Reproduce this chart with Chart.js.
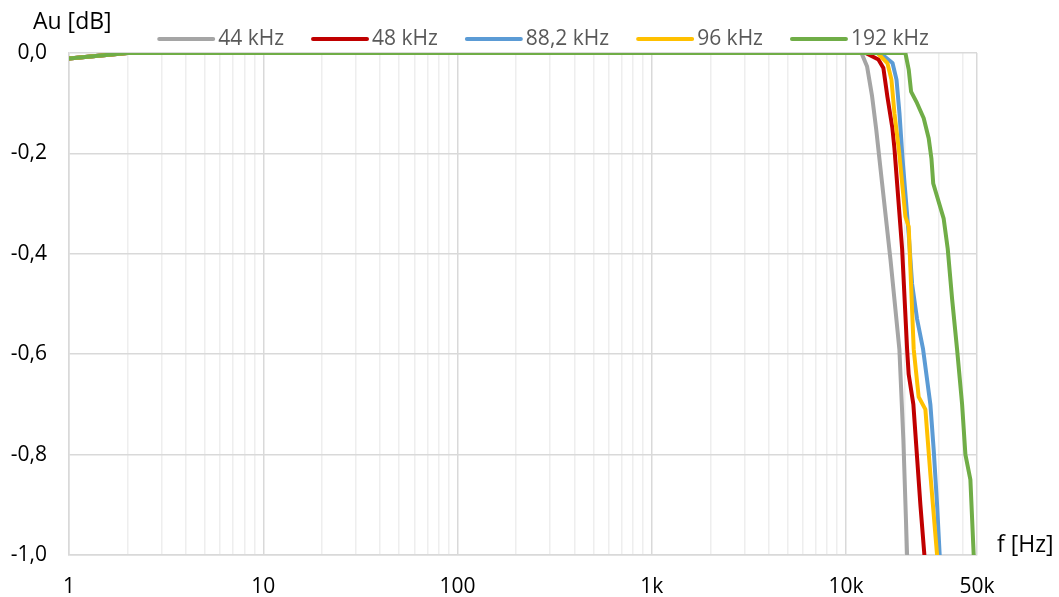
<!DOCTYPE html>
<html>
<head>
<meta charset="utf-8">
<script src="https://cdn.jsdelivr.net/npm/chart.js@4.4.0/dist/chart.umd.min.js"></script>
<style>
  html, body { margin: 0; padding: 0; background: #fff; }
</style>
</head>
<body>
<canvas id="chart" width="1059" height="597"></canvas>
<script>
// series names and colours (legend order)
const seriesNames = ["44 kHz", "48 kHz", "88,2 kHz", "96 kHz", "192 kHz"];
const seriesColors = ["#A5A5A5", "#C00000", "#5B9BD5", "#FFC000", "#70AD47"];

// frequency [Hz] / gain [dB]
const f44 = [1, 2, 12000, 12830, 13610, 14300, 15330, 16910, 17940, 18810, 19720, 20610];
const g44 = [-0.011, 0, 0, -0.027, -0.086, -0.153, -0.26, -0.41, -0.51, -0.59, -0.77, -1.0];

const f48 = [1, 2, 12600, 14670, 15560, 16320, 17320, 17740, 19430, 20610, 21000, 22200, 24130, 25300];
const g48 = [-0.011, 0, 0, -0.013, -0.03, -0.087, -0.15, -0.19, -0.39, -0.59, -0.64, -0.70, -0.90, -1.0];

const f88 = [1, 2, 15000, 17340, 18180, 18830, 19520, 21000, 21870, 23200, 24910, 27160, 28250, 29410, 30330];
const g88 = [-0.011, 0, 0, -0.02, -0.053, -0.12, -0.21, -0.36, -0.46, -0.53, -0.59, -0.70, -0.79, -0.90, -1.0];

const f96 = [1, 2, 14500, 16320, 17120, 17740, 18700, 20200, 21010, 22290, 23640, 25600, 27170, 29410];
const g96 = [-0.011, 0, 0, -0.02, -0.053, -0.12, -0.193, -0.326, -0.346, -0.59, -0.685, -0.71, -0.84, -1.0];

const f192 = [1, 2, 20200, 21010, 21610, 23200, 25100, 26620, 27500, 28100, 31800, 33360, 35140, 37270, 39560, 41140, 43640, 45390];
const g192 = [-0.011, 0, 0, -0.033, -0.077, -0.10, -0.13, -0.17, -0.21, -0.26, -0.33, -0.39, -0.49, -0.59, -0.70, -0.80, -0.85, -1.0];

const seriesFreq = [f44, f48, f88, f96, f192];
const seriesGain = [g44, g48, g88, g96, g192];

// axes
const xMin = 1;
const xMax = 47200;
const xLabelValues = [1, 10, 100, 1000, 10000, 47200];
const xLabels = ["1", "10", "100", "1k", "10k", "50k"];
const yTicks = [0, -0.2, -0.4, -0.6, -0.8, -1.0];

// log grid lines 1..9 per decade
const xGrid = [];
for (let p = 1; p <= 10000; p *= 10) {
  for (let m = 1; m <= 9; m++) {
    if (m * p < xMax) xGrid.push(m * p);
  }
}
xGrid.push(xMax);

const FONT = '"Open Sans", "DejaVu Sans", sans-serif';

const datasets = seriesNames.map((name, i) => ({
  label: name,
  data: seriesFreq[i].map((f, j) => ({ x: f, y: seriesGain[i][j] })),
  borderColor: seriesColors[i],
  backgroundColor: seriesColors[i],
  borderWidth: 4,
  pointRadius: 0,
  tension: 0,
  borderCapStyle: "round",
  borderJoinStyle: "round"
})).reverse(); // green drawn on top

/* ===== legend + axis titles ===== */
const overlay = {
  id: "overlay",
  afterDraw(chart) {
    const ctx = chart.ctx;
    ctx.save();
    ctx.textBaseline = "middle";

    // legend
    ctx.font = "21px " + FONT;
    const lineLen = 54, gapText = 5, gapItem = 29;
    const widths = seriesNames.map(n => ctx.measureText(n).width);
    let total = 0;
    widths.forEach((w, i) => { total += lineLen + gapText + w + (i ? gapItem : 0); });
    let x = 544 - total / 2;
    const y = 39;
    seriesNames.forEach((n, i) => {
      ctx.strokeStyle = seriesColors[i];
      ctx.lineWidth = 4;
      ctx.lineCap = "round";
      ctx.beginPath();
      ctx.moveTo(x, y);
      ctx.lineTo(x + lineLen, y);
      ctx.stroke();
      ctx.fillStyle = "#595959";
      ctx.textAlign = "left";
      ctx.fillText(n, x + lineLen + gapText, y);
      x += lineLen + gapText + widths[i] + gapItem;
    });

    // axis titles
    ctx.font = "23px " + FONT;
    ctx.fillStyle = "#000";
    ctx.fillText("Au [dB]", 33, 22);
    ctx.fillText("f [Hz]", 997, 545);
    ctx.restore();
  }
};

new Chart(document.getElementById("chart"), {
  type: "line",
  data: { datasets },
  plugins: [overlay],
  options: {
    responsive: false,
    animation: false,
    layout: { padding: { left: 0, right: 82, top: 53, bottom: 0 } },
    plugins: {
      legend: { display: false },
      tooltip: { enabled: false }
    },
    scales: {
      x: {
        type: "logarithmic",
        min: xMin,
        max: xMax,
        afterBuildTicks: scale => { scale.ticks = xGrid.map(v => ({ value: v })); },
        afterFit: scale => { scale.height = 42; },
        ticks: {
          autoSkip: false,
          maxRotation: 0,
          padding: 19,
          color: "#000",
          font: { family: FONT, size: 21 },
          callback: v => {
            const k = xLabelValues.indexOf(v);
            return k >= 0 ? xLabels[k] : "";
          }
        },
        grid: {
          drawTicks: false,
          lineWidth: 1.5,
          color: c => (xLabelValues.indexOf(c.tick.value) >= 0 ? "#D9D9D9" : "#EEEEEE")
        },
        border: { color: "#D9D9D9", width: 1.5 }
      },
      y: {
        min: -1,
        max: 0,
        afterBuildTicks: scale => { scale.ticks = yTicks.map(v => ({ value: v })); },
        afterFit: scale => { scale.width = 69; },
        ticks: {
          padding: 22,
          color: "#000",
          font: { family: FONT, size: 21 },
          callback: v => v.toFixed(1).replace(".", ",")
        },
        grid: { drawTicks: false, lineWidth: 1.5, color: "#D9D9D9" },
        border: { color: "#D9D9D9", width: 1.5 }
      }
    }
  }
});
</script>
</body>
</html>
